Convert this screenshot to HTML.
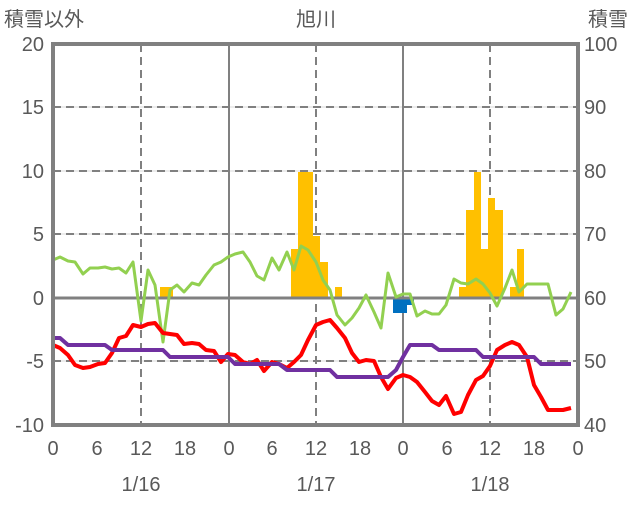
<!DOCTYPE html>
<html><head><meta charset="utf-8"><style>body{margin:0;background:#fff}svg text{font-family:"Liberation Sans","Noto Sans CJK JP",sans-serif;fill:#595959}</style></head><body>
<svg width="636" height="501" xmlns="http://www.w3.org/2000/svg">
<g stroke="#d9d9d9" stroke-width="1"><line x1="53" y1="107" x2="578" y2="107"/><line x1="53" y1="171" x2="578" y2="171"/><line x1="53" y1="234" x2="578" y2="234"/><line x1="53" y1="361" x2="578" y2="361"/></g>
<g stroke="#808080" stroke-width="2" stroke-dasharray="8,5"><line x1="53" y1="107" x2="578" y2="107"/><line x1="53" y1="171" x2="578" y2="171"/><line x1="53" y1="234" x2="578" y2="234"/><line x1="53" y1="361" x2="578" y2="361"/>
<line x1="141" y1="44" x2="141" y2="425"/><line x1="316" y1="44" x2="316" y2="425"/><line x1="490" y1="44" x2="490" y2="425"/></g>
<g stroke="#808080" stroke-width="2"><line x1="229" y1="44" x2="229" y2="425"/><line x1="403" y1="44" x2="403" y2="425"/></g>
<g fill="#ffc000">
<rect x="160" y="287" width="13" height="11"/>
<rect x="291" y="249" width="7" height="49"/><rect x="298" y="172" width="15" height="126"/><rect x="313" y="236" width="7" height="62"/><rect x="320" y="262" width="8" height="36"/><rect x="335" y="287" width="7" height="11"/>
<rect x="459" y="287" width="7" height="11"/><rect x="466" y="210" width="8" height="88"/><rect x="474" y="172" width="7" height="126"/><rect x="481" y="249" width="7" height="49"/><rect x="488" y="198" width="7" height="100"/><rect x="495" y="210" width="8" height="88"/><rect x="510" y="287" width="7" height="11"/><rect x="517" y="249" width="7" height="49"/>
</g>
<g fill="#0070c0"><rect x="393" y="298" width="14" height="15"/><rect x="407" y="298" width="7" height="7"/></g>
<line x1="53" y1="298" x2="578" y2="298" stroke="#808080" stroke-width="3"/>
<polyline fill="none" stroke="#92d050" stroke-width="3" stroke-linejoin="round" points="53,260 60,257 68,261 75,262 83,274 90,268 98,268 105,267 112,269 119,268 126,273 133,262 141,321 148,270 155,285 163,342 170,290 177,285 184,292 192,283 199,285 206,275 214,265 221,262 228,257 235,254 243,252 250,262 257,276 264,280 272,258 279,270 287,252 294,270 301,246 308,250 316,262 323,280 330,290 337,315 345,325 352,318 359,308 366,295 374,312 381,328 388,273 396,297 403,294 410,294 417,316 425,311 432,314 439,314 446,305 454,279 461,283 468,284 476,279 483,284 490,293 497,306 505,288 512,270 519,292 527,284 534,284 541,284 548,284 556,315 563,309 571,292"/>
<polyline fill="none" stroke="#ff0000" stroke-width="4" stroke-linejoin="round" points="53,345 60,348 68,355 75,365 83,368 90,367 98,364 105,363 112,353 119,338 126,336 133,325 141,327 148,324 155,323 163,333 170,334 177,335 184,344 192,343 199,344 206,350 214,351 221,362 228,354 235,355 243,362 250,364 257,360 264,371 272,362 279,364 287,368 294,362 301,355 308,340 316,325 323,322 330,320 337,328 345,338 352,353 359,362 366,360 374,361 381,377 388,389 396,378 403,375 410,377 417,382 425,392 432,401 439,405 446,396 454,414 461,412 468,395 476,380 483,376 490,366 497,350 505,345 512,342 519,345 527,357 534,385 541,397 548,410 556,410 563,410 571,408"/>
<polyline fill="none" stroke="#7030a0" stroke-width="4" stroke-linejoin="round" points="53,338 60,338 68,345 105,345 112,350 163,350 170,357 228,357 235,364 279,364 287,370 330,370 337,377 388,377 396,370 403,357 410,345 432,345 439,350 476,350 483,357 534,357 541,364 571,364"/>
<rect x="53" y="44" width="525" height="381" fill="none" stroke="#808080" stroke-width="4"/>
<g font-size="20" text-anchor="end"><text x="44" y="51">20</text><text x="44" y="114">15</text><text x="44" y="178">10</text><text x="44" y="241">5</text><text x="44" y="305">0</text><text x="44" y="368">-5</text><text x="44" y="432">-10</text></g>
<g font-size="20"><text x="584" y="51">100</text><text x="584" y="114">90</text><text x="584" y="178">80</text><text x="584" y="241">70</text><text x="584" y="305">60</text><text x="584" y="368">50</text><text x="584" y="432">40</text></g>
<g font-size="20" text-anchor="middle"><text x="53" y="455">0</text><text x="97" y="455">6</text><text x="141" y="455">12</text><text x="185" y="455">18</text><text x="229" y="455">0</text><text x="272" y="455">6</text><text x="316" y="455">12</text><text x="360" y="455">18</text><text x="403" y="455">0</text><text x="447" y="455">6</text><text x="490" y="455">12</text><text x="534" y="455">18</text><text x="578" y="455">0</text>
<text x="141" y="491">1/16</text><text x="316" y="491">1/17</text><text x="490" y="491">1/18</text>
<text x="316" y="26">旭川</text></g>
<g font-size="20"><text x="4" y="26">積雪以外</text><text x="588" y="26">積雪</text></g>
</svg></body></html>
